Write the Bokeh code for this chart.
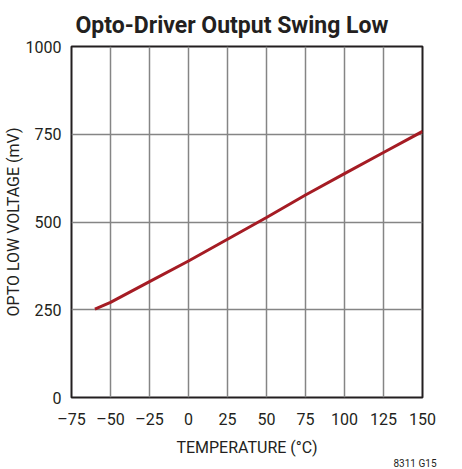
from bokeh.plotting import figure
from bokeh.models import FixedTicker, Title, ColumnDataSource
from bokeh.embed import file_html
from bokeh.resources import INLINE

temperature = [-60, -50, -25, 0, 25, 50, 75, 100, 125, 150]
opto_low_mv = [252, 271, 330, 389, 451, 513, 577, 638, 698, 758]

x_ticks = [-75, -50, -25, 0, 25, 50, 75, 100, 125, 150]
x_labels = {t: (("\u2013" + str(-t)) if t < 0 else str(t)) for t in x_ticks}
y_ticks = [0, 250, 500, 750, 1000]

FONT = "Roboto"
TXT = "#231f20"

p = figure(width=446, height=453, output_backend="svg", toolbar_location=None,
           x_range=(-75, 150), y_range=(0, 1000),
           frame_width=351, frame_height=351,
           min_border_left=69, min_border_top=46, min_border_right=26, min_border_bottom=52)

p.title.text = "Opto-Driver Output Swing Low"
p.title.align = "left"
p.title.text_font = FONT
p.title.text_font_style = "bold"
p.title.text_font_size = "23px"
p.title.text_color = TXT
p.title.offset = 4
p.title.standoff = 16

src = ColumnDataSource(dict(x=temperature, y=opto_low_mv))
p.line("x", "y", source=src, line_color="#a51c24", line_width=3)

p.xaxis.ticker = FixedTicker(ticks=x_ticks)
p.xaxis.major_label_overrides = x_labels
p.yaxis.ticker = FixedTicker(ticks=y_ticks)
p.xaxis.axis_label = "TEMPERATURE (\u00b0C)"
p.yaxis.axis_label = "OPTO LOW VOLTAGE (mV)"

for ax in (p.xaxis[0], p.yaxis[0]):
    ax.axis_line_color = None
    ax.major_tick_line_color = None
    ax.minor_tick_line_color = None
    ax.major_tick_out = 0
    ax.major_tick_in = 0
    ax.minor_tick_out = 0
    ax.minor_tick_in = 0
    ax.major_label_text_font = FONT
    ax.major_label_text_font_size = "16px"
    ax.major_label_text_color = TXT
    ax.axis_label_text_font = FONT
    ax.axis_label_text_font_size = "16px"
    ax.axis_label_text_font_style = "normal"
    ax.axis_label_text_color = TXT

p.yaxis.major_label_standoff = 10
p.yaxis.axis_label_standoff = 0
p.xaxis.major_label_standoff = 12
p.xaxis.axis_label_standoff = 6

p.xgrid.ticker = FixedTicker(ticks=x_ticks)
p.ygrid.ticker = FixedTicker(ticks=y_ticks)
p.grid.grid_line_color = "#858585"
p.grid.grid_line_width = 1.5
p.grid.grid_line_alpha = 1.0

p.outline_line_color = "#231f20"
p.outline_line_width = 2
p.outline_line_alpha = 1.0

note = Title(text="8311 G15", align="right", vertical_align="top", offset=-14, standoff=-3,
             text_font=FONT, text_font_size="10px", text_font_style="normal",
             text_color=TXT)
p.add_layout(note, "below")

open("out.html", "w").write(file_html(p, INLINE))
